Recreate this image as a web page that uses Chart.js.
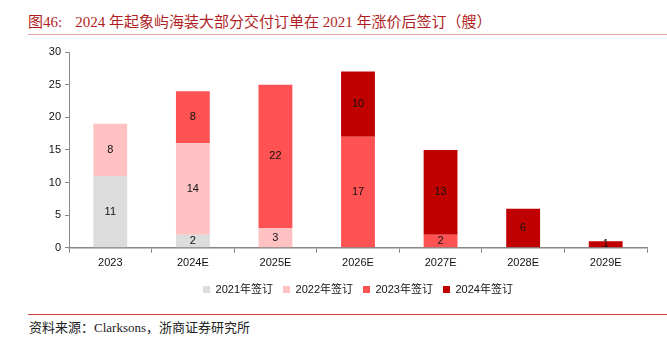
<!DOCTYPE html>
<html>
<head>
<meta charset="utf-8">
<script src="https://cdn.jsdelivr.net/npm/chart.js@4/dist/chart.umd.min.js"></script>
<style>
  html, body { margin: 0; padding: 0; background: #fff; }
  #wrap { position: relative; width: 667px; height: 338px; overflow: hidden; }
  #title { position: absolute; left: 28px; top: 10px; font: 15px "Liberation Serif", "Noto Sans CJK SC", serif; color: #b01e23; white-space: nowrap; }
  #title .num { margin-right: 13px; }
  #topline { position: absolute; left: 28px; right: 0; top: 34px; height: 1px; background: #e8a0a0; }
  #botline { position: absolute; left: 28px; right: 0; top: 314px; height: 1px; background: #d04040; }
  #source { position: absolute; left: 29px; top: 317px; font: 13px "Liberation Serif", "Noto Sans CJK SC", serif; color: #222; white-space: nowrap; }
  #box { position: absolute; left: 0; top: 40px; width: 667px; height: 267px; }
</style>
</head>
<body>
<div id="wrap">
  <div id="title"><span class="num">图46:</span>2024 年起象屿海装大部分交付订单在 2021 年涨价后签订（艘）</div>
  <div id="topline"></div>
  <div id="box"><canvas id="chartOrder"></canvas></div>
  <div id="botline"></div>
  <div id="source">资料来源：Clarksons，浙商证券研究所</div>
</div>
<script>
'use strict'

// 交付年份
var years = ['2023', '2024E', '2025E', '2026E', '2027E', '2028E', '2029E'];
// 按签订年份拆分的交付量（艘）
var signed2021 = [11, 2, 0, 0, 0, 0, 0];
var signed2022 = [8, 14, 3, 0, 0, 0, 0];
var signed2023 = [0, 8, 22, 17, 2, 0, 0];
var signed2024 = [0, 0, 0, 10, 13, 6, 1];
var yTicks = [0, 5, 10, 15, 20, 25, 30];

var font = "Arial, 'Liberation Sans', 'Noto Sans CJK SC', sans-serif";

function makeSet(label, data, color) {
    return {
        label: label,
        data: data,
        backgroundColor: color,
        borderWidth: 0,
        barPercentage: 0.41,
        categoryPercentage: 1.0
    };
}

// 在柱内居中写数值
var barLabels = {
    id: 'barLabels',
    afterDatasetsDraw: function (chart) {
        var ctx = chart.ctx;
        ctx.save();
        ctx.font = '11px ' + font;
        ctx.fillStyle = '#111';
        ctx.textAlign = 'center';
        ctx.textBaseline = 'middle';
        chart.data.datasets.forEach(function (ds, i) {
            var meta = chart.getDatasetMeta(i);
            meta.data.forEach(function (bar, j) {
                var v = ds.data[j];
                if (!v) return;
                ctx.fillText(String(v), bar.x, (bar.y + bar.base) / 2);
            });
        });
        ctx.restore();
    }
};

var ctx = document.getElementById('chartOrder');
var barChart = new Chart(ctx, {
    type: 'bar',
    data: {
        labels: years,
        datasets: [
            makeSet('2021年签订', signed2021, '#dcdcdc'),
            makeSet('2022年签订', signed2022, '#ffc1c1'),
            makeSet('2023年签订', signed2023, '#ff5252'),
            makeSet('2024年签订', signed2024, '#c00000')
        ]
    },
    options: {
        responsive: true,
        maintainAspectRatio: false,
        animation: false,
        layout: { padding: { top: 12, right: 20, left: 0, bottom: 2 } },
        plugins: {
            legend: {
                display: true,
                position: 'bottom',
                fullSize: false,
                labels: {
                    boxWidth: 7,
                    boxHeight: 7,
                    padding: 10,
                    color: '#111',
                    font: { size: 11, family: font }
                }
            },
            tooltip: { enabled: false }
        },
        scales: {
            x: {
                stacked: true,
                grid: {
                    display: true,
                    drawOnChartArea: false,
                    drawTicks: true,
                    offset: true,
                    tickLength: 5,
                    color: '#888'
                },
                border: { color: '#888', width: 1.5 },
                ticks: { color: '#111', font: { size: 11, family: font }, padding: 4 }
            },
            y: {
                stacked: true,
                min: 0,
                max: 30,
                afterBuildTicks: function (scale) {
                    scale.ticks = yTicks.map(function (v) { return { value: v }; });
                },
                afterFit: function (scale) { scale.width = 69; },
                grid: {
                    display: true,
                    drawOnChartArea: false,
                    drawTicks: true,
                    tickLength: 4,
                    color: '#888'
                },
                border: { color: '#888', width: 1 },
                ticks: { color: '#111', font: { size: 11, family: font }, padding: 4 }
            }
        }
    },
    plugins: [barLabels]
});
</script>
</body>
</html>
